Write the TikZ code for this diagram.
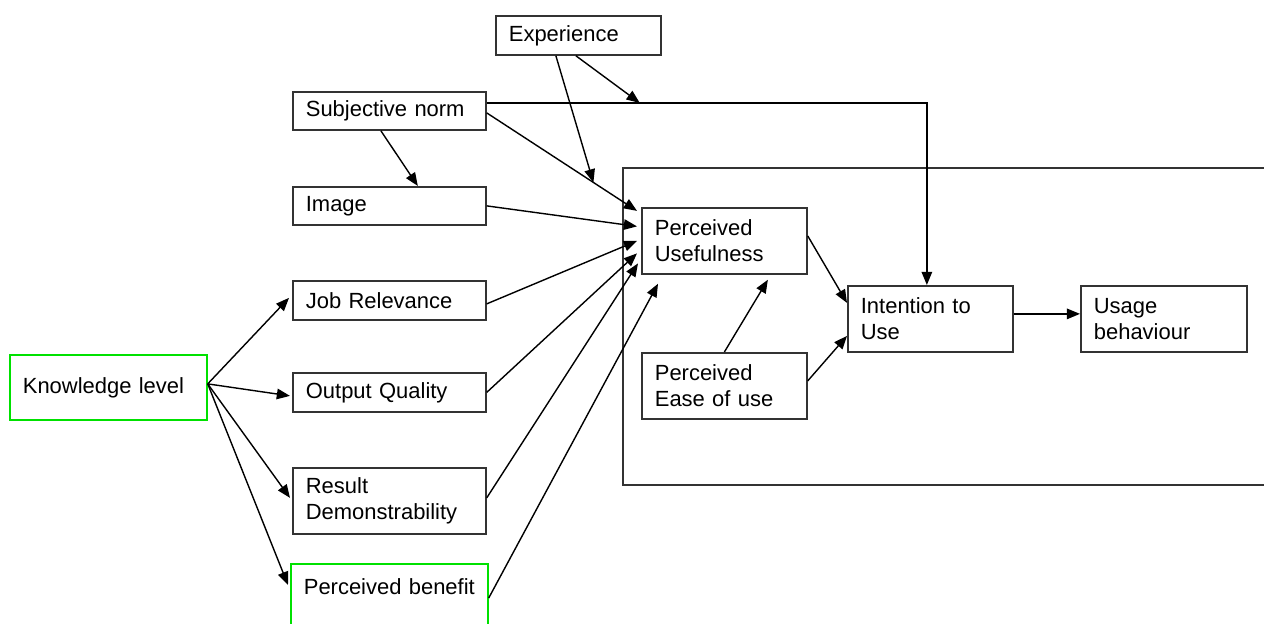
\documentclass[tikz,border=0pt]{standalone}
\usepackage{fontspec}
\setmainfont{Liberation Sans}
\usetikzlibrary{arrows.meta,calc}
\definecolor{kgreen}{RGB}{0,225,0}
\begin{document}
\begin{tikzpicture}[x=0.02cm,y=-0.02cm,
  box/.style={draw=black!80, line width=1pt, anchor=north west, align=left,
    inner xsep=0.26cm, inner ysep=0pt, font=\fontsize{12.5}{14.8}\selectfont},
  gbox/.style={box, draw=kgreen},
  arr/.style={-{Triangle[length=7.5pt,width=6pt]}, line width=0.8pt},
  frame/.style={line width=1pt, draw=black!80}]
\useasboundingbox (0,0) rectangle (1264,623);
\clip (0,0) rectangle (1264,623);

% outer frame (open to the right)
\draw[frame] (1275,168) -- (623,168) -- (623,485) -- (1275,485);

% boxes
\node[box, text width=2.78cm, minimum height=0.78cm] (exp) at (495,15) {Experience};
\node[box, text width=3.34cm, minimum height=0.76cm] (sn)  at (292,91)  {Subjective norm};
\node[box, text width=3.34cm, minimum height=0.76cm] (img) at (292,186) {Image};
\node[box, text width=3.34cm, minimum height=0.78cm] (jr)  at (292,280) {Job Relevance};
\node[box, text width=3.34cm, minimum height=0.78cm] (oq)  at (292,372) {Output Quality};
\node[box, text width=3.34cm, minimum height=1.32cm] (rd)  at (292,467) {Result\\Demonstrability};
\node[gbox, text width=3.42cm, text height=0.62cm, text depth=0.9cm] (pb) at (290,563) {Perceived benefit};
\node[gbox, text width=3.42cm, minimum height=1.30cm] (kl) at (9,354) {Knowledge level};
\node[box, text width=2.78cm, minimum height=1.32cm] (pu)  at (641,207) {Perceived\\Usefulness};
\node[box, text width=2.78cm, minimum height=1.32cm] (peu) at (641,352) {Perceived\\Ease of use};
\node[box, text width=2.78cm, minimum height=1.32cm] (itu) at (847,285) {Intention to\\Use};
\node[box, text width=2.80cm, minimum height=1.32cm] (ub)  at (1080,285) {Usage\\behaviour};

% knowledge level arrows
\draw[arr] ([yshift=0.07cm]kl.east) -- ([xshift=-0.06cm,yshift=0.05cm]jr.west);
\draw[arr] ([yshift=0.07cm]kl.east) -- ([xshift=-0.04cm,yshift=-0.07cm]oq.west);
\draw[arr] ([yshift=0.07cm]kl.east) -- ([xshift=-0.04cm,yshift=0.06cm]rd.west);
\draw[arr] ([yshift=0.07cm]kl.east) -- ([xshift=-0.04cm,yshift=-0.44cm]pb.north west);

% subjective norm
\draw[arr] ([xshift=-0.17cm]sn.south) -- ([xshift=0.57cm]img.north);
\draw[arr] ([yshift=-0.04cm]sn.east) -- coordinate[pos=0.71] (e1) ([xshift=-0.08cm,yshift=0.6cm]pu.west);
\draw[arr] ([yshift=0.16cm]sn.east) -| ([xshift=-0.07cm]itu.north);
\coordinate (e2) at ($([yshift=0.16cm]sn.east)+(153,0)$);

% experience
\draw[arr] ([xshift=-0.45cm]exp.south) -- (e1);
\draw[arr] ([xshift=-0.05cm]exp.south) -- (e2);

% determinants to perceived usefulness
\draw[arr] (img.east) -- ([xshift=-0.08cm,yshift=0.29cm]pu.west);
\draw[arr] ([yshift=-0.07cm]jr.east) -- ([xshift=-0.08cm]pu.west);
\draw[arr] (oq.east) -- ([xshift=-0.08cm,yshift=-0.25cm]pu.west);
\draw[arr] ([yshift=0.06cm]rd.east) -- ([xshift=-0.06cm,yshift=-0.45cm]pu.west);
\draw[arr] ([yshift=-0.7cm]pb.north east) -- ([xshift=0.34cm,yshift=-0.18cm]pu.south west);

% inner model
\draw[arr] (peu.north) -- ([xshift=0.87cm,yshift=-0.1cm]pu.south);
\draw[arr] ([yshift=0.1cm]pu.east) -- ([yshift=0.32cm]itu.west);
\draw[arr] ([yshift=0.1cm]peu.east) -- ([yshift=-0.34cm]itu.west);
\draw[arr] ([yshift=0.1cm]itu.east) -- ([yshift=0.1cm]ub.west);
\end{tikzpicture}
\end{document}
